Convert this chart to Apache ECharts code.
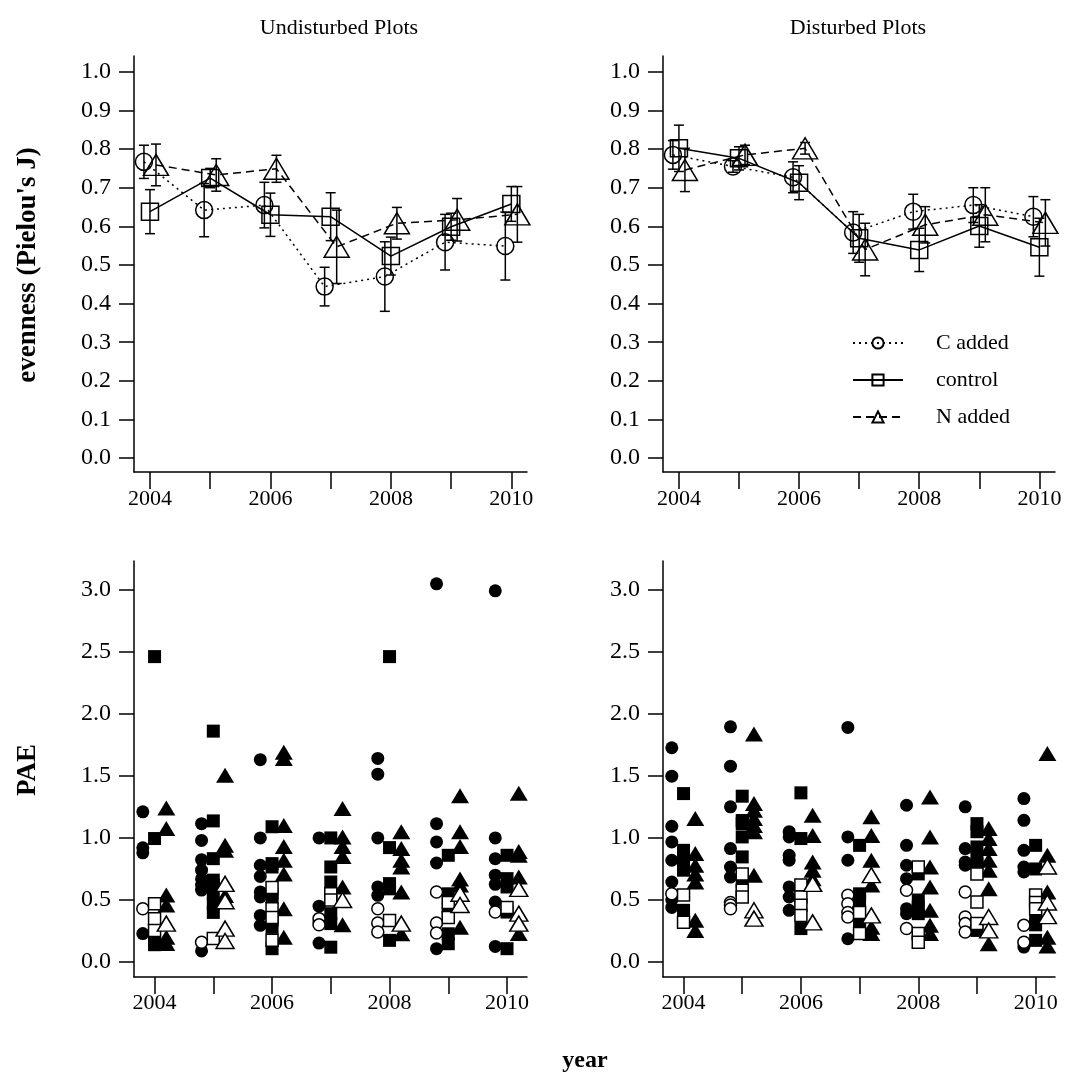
<!DOCTYPE html>
<html>
<head>
<meta charset="utf-8">
<script src="https://cdn.jsdelivr.net/npm/echarts@6/dist/echarts.min.js"></script>
<style>
  html, body { margin: 0; padding: 0; background: #fff; }
  #chart { width: 1072px; height: 1083px; }
</style>
</head>
<body>
<div id="chart"></div>
<script>
const years = [2004, 2005, 2006, 2007, 2008, 2009, 2010];
const yearLabels = [2004, 2006, 2008, 2010];
const evenTicks = [0, 0.1, 0.2, 0.3, 0.4, 0.5, 0.6, 0.7, 0.8, 0.9, 1.0];
const paeTicks = [0, 0.5, 1, 1.5, 2, 2.5, 3];
const treatments = ['C added', 'control', 'N added'];

// evenness, undisturbed plots (mean, error)
const undCMean = [0.767, 0.642, 0.655, 0.444, 0.470, 0.559, 0.549];
const undCErr = [0.043, 0.069, 0.059, 0.050, 0.090, 0.072, 0.088];
const undCtlMean = [0.638, 0.725, 0.630, 0.625, 0.523, 0.599, 0.658];
const undCtlErr = [0.057, 0.025, 0.056, 0.062, 0.049, 0.035, 0.045];
const undNMean = [0.759, 0.733, 0.749, 0.547, 0.608, 0.617, 0.631];
const undNErr = [0.054, 0.042, 0.035, 0.095, 0.041, 0.055, 0.072];

// evenness, disturbed plots (mean, error)
const disCMean = [0.785, 0.755, 0.727, 0.584, 0.638, 0.655, 0.625];
const disCErr = [0.037, 0.015, 0.040, 0.054, 0.045, 0.045, 0.052];
const disCtlMean = [0.802, 0.776, 0.713, 0.569, 0.539, 0.601, 0.546];
const disCtlErr = [0.060, 0.030, 0.044, 0.062, 0.056, 0.055, 0.075];
const disNMean = [0.746, 0.785, 0.802, 0.540, 0.604, 0.630, 0.609];
const disNErr = [0.056, 0.025, 0.015, 0.068, 0.047, 0.070, 0.060];

// PAE, undisturbed plots: one list per year
const undPaeC = [[1.21, 0.92, 0.88, 0.23], [1.115, 0.98, 0.825, 0.74, 0.67, 0.62, 0.58, 0.09], [1.63, 1.0, 0.78, 0.69, 0.565, 0.525, 0.376, 0.296], [1.0, 0.45, 0.32, 0.153], [1.64, 1.513, 1.0, 0.605, 0.538], [3.046, 1.115, 0.968, 0.798, 0.108], [2.99, 1.0, 0.833, 0.70, 0.626, 0.484, 0.126]];
const undPaeCOpen = [[0.43], [0.16], [], [0.35, 0.30], [0.43, 0.315, 0.242], [0.565, 0.315, 0.234], [0.403]];
const undPaeCtl = [[2.46, 0.995, 0.18, 0.14], [1.86, 1.137, 0.833, 0.66, 0.62, 0.55, 0.47, 0.40], [1.09, 0.793, 0.766, 0.551, 0.524, 0.336, 0.28, 0.108], [1.0, 0.766, 0.645, 0.39, 0.31, 0.12], [2.46, 0.922, 0.632, 0.59, 0.175], [0.86, 0.55, 0.44, 0.39, 0.228, 0.148], [0.86, 0.672, 0.605, 0.403, 0.108]];
const undPaeCtlOpen = [[0.47, 0.35, 0.255], [0.19], [0.60, 0.43, 0.36, 0.175], [0.55, 0.50], [0.335], [0.48, 0.36], [0.44]];
const undPaeN = [[1.24, 1.075, 0.54, 0.46, 0.20, 0.15], [1.505, 0.94, 0.90, 0.537], [1.69, 1.64, 1.10, 0.93, 0.82, 0.71, 0.43, 0.20], [1.237, 1.008, 0.93, 0.85, 0.605, 0.30], [1.05, 0.914, 0.82, 0.766, 0.565, 0.228], [1.34, 1.05, 0.93, 0.67, 0.62, 0.28], [1.36, 0.89, 0.86, 0.685, 0.23]];
const undPaeNOpen = [[0.31], [0.63, 0.49, 0.27, 0.17], [], [0.50], [0.31], [0.55, 0.46], [0.59, 0.39, 0.31]];

// PAE, disturbed plots: one list per year
const disPaeC = [[1.726, 1.497, 1.094, 0.968, 0.82, 0.645, 0.50, 0.44], [1.895, 1.578, 1.25, 0.914, 0.766, 0.685], [1.05, 1.008, 0.86, 0.82, 0.605, 0.524, 0.417], [1.89, 1.008, 0.82, 0.188], [1.263, 0.94, 0.78, 0.672, 0.43, 0.39], [1.25, 0.914, 0.806, 0.78], [1.317, 1.142, 0.90, 0.766, 0.726, 0.121]];
const disPaeCOpen = [[0.55], [0.48, 0.46, 0.43], [], [0.538, 0.47, 0.40, 0.363], [0.578, 0.27], [0.565, 0.363, 0.31, 0.242], [0.296, 0.16]];
const disPaeCtl = [[1.357, 0.90, 0.847, 0.79, 0.74, 0.417, 0.39], [1.336, 1.14, 1.115, 1.008, 0.847, 0.645], [1.363, 0.995, 0.27], [0.94, 0.55, 0.50, 0.336, 0.27], [0.71, 0.50, 0.444, 0.39], [1.115, 1.05, 0.927, 0.847, 0.79, 0.255], [0.94, 0.75, 0.37, 0.30, 0.175]];
const disPaeCtlOpen = [[0.54, 0.32], [0.71, 0.578, 0.524], [0.62, 0.524, 0.457, 0.376], [0.40, 0.23], [0.766, 0.23, 0.16], [0.71, 0.484, 0.31], [0.54, 0.48, 0.43]];
const disPaeN = [[1.156, 0.874, 0.78, 0.71, 0.645, 0.336, 0.255], [1.836, 1.277, 1.223, 1.156, 1.10, 1.05, 0.70], [1.183, 1.02, 0.806, 0.74, 0.672], [1.17, 1.02, 0.82, 0.62, 0.28, 0.23], [1.33, 1.008, 0.766, 0.605, 0.417, 0.296, 0.23], [1.075, 0.995, 0.914, 0.82, 0.74, 0.59, 0.148], [1.68, 0.86, 0.565, 0.20, 0.13]];
const disPaeNOpen = [[], [0.417, 0.35], [0.63, 0.32], [0.70, 0.376], [], [0.363, 0.255], [0.77, 0.48, 0.37]];

const FONT = 'Liberation Serif';
const black = '#000';

function xAxis(grid, min, max, margin) {
  return {
    type: 'value', gridIndex: grid, min: min, max: max,
    axisLine: { show: true, onZero: false, lineStyle: { color: black, width: 1.5 } },
    axisTick: { show: true, length: 17, customValues: years, lineStyle: { color: black, width: 1.5 } },
    axisLabel: { customValues: yearLabels, margin: margin, color: black, fontFamily: FONT, fontSize: 22,
      formatter: (v) => String(v) },
    splitLine: { show: false }
  };
}

function yAxis(grid, min, max, ticks) {
  return {
    type: 'value', gridIndex: grid, min: min, max: max,
    axisLine: { show: true, onZero: false, lineStyle: { color: black, width: 1.5 } },
    axisTick: { show: true, length: 15, customValues: ticks, lineStyle: { color: black, width: 1.5 } },
    axisLabel: { customValues: ticks, margin: 23, color: black, fontFamily: FONT, fontSize: 24,
      formatter: (v) => v.toFixed(1) },
    splitLine: { show: false }
  };
}

function renderErr(params, api) {
  const lo = api.coord([api.value(0), api.value(1)]);
  const hi = api.coord([api.value(0), api.value(2)]);
  const cap = 5;
  const st = { stroke: black, lineWidth: 1.5 };
  return {
    type: 'group',
    children: [
      { type: 'line', shape: { x1: lo[0], y1: lo[1], x2: hi[0], y2: hi[1] }, style: st },
      { type: 'line', shape: { x1: lo[0] - cap, y1: lo[1], x2: lo[0] + cap, y2: lo[1] }, style: st },
      { type: 'line', shape: { x1: hi[0] - cap, y1: hi[1], x2: hi[0] + cap, y2: hi[1] }, style: st }
    ]
  };
}

function evenSeries(grid, name, mean, err, off, symbol, size, dash) {
  return [
    {
      type: 'custom', xAxisIndex: grid, yAxisIndex: grid, silent: true, z: 2,
      data: years.map((y, i) => [y + off, mean[i] - err[i], mean[i] + err[i]]),
      encode: { x: 0, y: [1, 2] },
      renderItem: renderErr
    },
    {
      type: 'line', name: name, xAxisIndex: grid, yAxisIndex: grid, z: 3,
      data: years.map((y, i) => [y + off, mean[i]]),
      symbol: symbol, symbolSize: size, showSymbol: true,
      lineStyle: { color: black, width: 1.5, type: dash },
      itemStyle: { color: 'rgba(255,255,255,0)', borderColor: black, borderWidth: 1.5 },
      emphasis: { disabled: true }
    }
  ];
}

function paeSeries(grid, name, vals, off, symbol, size, open) {
  const data = [];
  years.forEach((y, i) => vals[i].forEach((v) => data.push([y + off, v])));
  return {
    type: 'scatter', name: name, xAxisIndex: grid, yAxisIndex: grid, z: open ? 4 : 3,
    data: data, symbol: symbol, symbolSize: size,
    itemStyle: open ? { color: '#fff', borderColor: black, borderWidth: 1.5, opacity: 1 } : { color: black, opacity: 1 },
    emphasis: { disabled: true }
  };
}

const series = [].concat(
  evenSeries(0, treatments[0], undCMean, undCErr, -0.1, 'circle', 17, [2, 4]),
  evenSeries(0, treatments[1], undCtlMean, undCtlErr, 0, 'rect', 17, 'solid'),
  evenSeries(0, treatments[2], undNMean, undNErr, 0.1, 'triangle', [25, 21], [8, 5]),
  evenSeries(1, treatments[0], disCMean, disCErr, -0.1, 'circle', 17, [2, 4]),
  evenSeries(1, treatments[1], disCtlMean, disCtlErr, 0, 'rect', 17, 'solid'),
  evenSeries(1, treatments[2], disNMean, disNErr, 0.1, 'triangle', [25, 21], [8, 5]),
  [
    paeSeries(2, 'uC', undPaeC, -0.2, 'circle', 13, false),
    paeSeries(2, 'uCtl', undPaeCtl, 0, 'rect', 13, false),
    paeSeries(2, 'uN', undPaeN, 0.2, 'triangle', [18, 15], false),
    paeSeries(2, 'uCo', undPaeCOpen, -0.2, 'circle', 12, true),
    paeSeries(2, 'uCtlo', undPaeCtlOpen, 0, 'rect', 12, true),
    paeSeries(2, 'uNo', undPaeNOpen, 0.2, 'triangle', [18, 15], true),
    paeSeries(3, 'dC', disPaeC, -0.2, 'circle', 13, false),
    paeSeries(3, 'dCtl', disPaeCtl, 0, 'rect', 13, false),
    paeSeries(3, 'dN', disPaeN, 0.2, 'triangle', [18, 15], false),
    paeSeries(3, 'dCo', disPaeCOpen, -0.2, 'circle', 12, true),
    paeSeries(3, 'dCtlo', disPaeCtlOpen, 0, 'rect', 12, true),
    paeSeries(3, 'dNo', disPaeNOpen, 0.2, 'triangle', [18, 15], true)
  ]
);

const chart = echarts.init(document.getElementById('chart'), null, { renderer: 'canvas' });
chart.setOption({
  backgroundColor: '#fff',
  animation: false,
  grid: [
    { left: 134, top: 56, width: 393, height: 416, containLabel: false, outerBoundsMode: 'none' },
    { left: 663, top: 56, width: 392, height: 416, containLabel: false, outerBoundsMode: 'none' },
    { left: 134, top: 561, width: 393, height: 416, containLabel: false, outerBoundsMode: 'none' },
    { left: 663, top: 561, width: 392, height: 416, containLabel: false, outerBoundsMode: 'none' }
  ],
  xAxis: [
    xAxis(0, 2003.735, 2010.26, 16),
    xAxis(1, 2003.735, 2010.26, 16),
    xAxis(2, 2003.65, 2010.34, 15),
    xAxis(3, 2003.65, 2010.33, 15)
  ],
  yAxis: [
    yAxis(0, -0.036, 1.041, evenTicks),
    yAxis(1, -0.036, 1.041, evenTicks),
    yAxis(2, -0.12, 3.23, paeTicks),
    yAxis(3, -0.12, 3.23, paeTicks)
  ],
  legend: {
    data: treatments, orient: 'vertical', left: 847, top: 327,
    itemWidth: 50, itemHeight: 14, itemGap: 15, selectedMode: false,
    textStyle: { fontFamily: FONT, fontSize: 22, color: black, padding: [0, 0, 0, 28] }
  },
  graphic: [
    { type: 'text', x: 339, y: 28, style: { text: 'Undisturbed Plots', font: '22px "Liberation Serif"', fill: black, textAlign: 'center', textVerticalAlign: 'middle' } },
    { type: 'text', x: 858, y: 28, style: { text: 'Disturbed Plots', font: '22px "Liberation Serif"', fill: black, textAlign: 'center', textVerticalAlign: 'middle' } },
    { type: 'text', x: 28, y: 265, rotation: Math.PI / 2, style: { text: "evenness (Pielou's J)", font: 'bold 27px "Liberation Serif"', fill: black, textAlign: 'center', textVerticalAlign: 'middle' } },
    { type: 'text', x: 28, y: 770, rotation: Math.PI / 2, style: { text: 'PAE', font: 'bold 27px "Liberation Serif"', fill: black, textAlign: 'center', textVerticalAlign: 'middle' } },
    { type: 'text', x: 585, y: 1061, style: { text: 'year', font: 'bold 24px "Liberation Serif"', fill: black, textAlign: 'center', textVerticalAlign: 'middle' } }
  ],
  series: series
});
</script>
</body>
</html>
